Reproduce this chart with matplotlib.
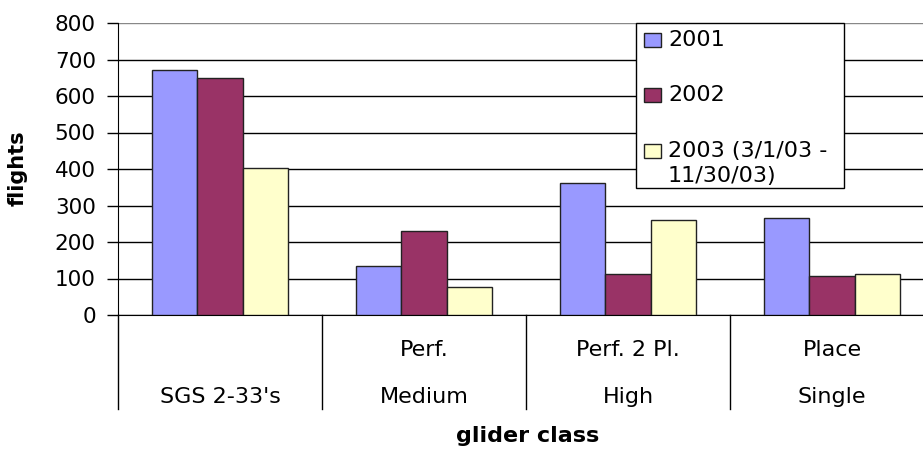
import numpy as np
import matplotlib
matplotlib.use("Agg")
import matplotlib.pyplot as plt
from matplotlib.patches import Rectangle
from matplotlib.transforms import Affine2D, blended_transform_factory

# data
classes_top = ["", "Perf.", "Perf. 2 Pl.", "Place"]
classes_bottom = ["SGS 2-33's", "Medium", "High", "Single"]
series_names = ["2001", "2002", "2003 (3/1/03 -\n11/30/03)"]
flights_2001 = [670, 133, 362, 267]
flights_2002 = [649, 231, 112, 106]
flights_2003 = [404, 77, 259, 113]
colors = ["#9999FF", "#993366", "#FFFFCC"]

W, H = 923, 449
plt.rcParams['font.family'] = ['DejaVu Sans']
fig = plt.figure(figsize=(W / 100, H / 100), dpi=100)

# pixel transform (origin top-left)
px = Affine2D().scale(1 / W, -1 / H).translate(0, 1) + fig.transFigure

left, right, top, bottom = 118, 934, 23, 315
ax = fig.add_axes([left / W, (H - bottom) / H, (right - left) / W, (bottom - top) / H])

x = np.arange(len(classes_bottom))
w = 1 / 4.5
for i, vals in enumerate([flights_2001, flights_2002, flights_2003]):
    ax.bar(x + (i - 1) * w, vals, width=w, color=colors[i],
           edgecolor="#222222", linewidth=1, zorder=3)

ax.set_xlim(-0.5, len(classes_bottom) - 0.5)
ax.set_ylim(0, 800)
ax.set_yticks(np.arange(0, 801, 100))
ax.yaxis.grid(True, color="black", linewidth=1)
ax.get_ygridlines()[-1].set_color("#888888")
ax.set_axisbelow(True)
ax.set_xticks([])
ax.tick_params(axis="y", length=8, width=1, pad=8, labelsize=15.5, direction="out")
for s in ["top", "right"]:
    ax.spines[s].set_visible(False)
ax.spines["left"].set_color("black")
ax.spines["bottom"].set_color("black")

# category table below the axis
drop = (409 - bottom) / (bottom - top)
tr = blended_transform_factory(ax.transData, ax.transAxes)
for b in np.arange(-0.5, len(classes_bottom) - 0.4, 1):
    ax.plot([b, b], [0, -drop], transform=tr, color="black", lw=1, clip_on=False)
row1 = -(350 - bottom) / (bottom - top)
row2 = -(397 - bottom) / (bottom - top)
for xi, t1, t2 in zip(x, classes_top, classes_bottom):
    ax.text(xi, row1, t1, transform=tr, ha="center", va="center", fontsize=16)
    ax.text(xi, row2, t2, transform=tr, ha="center", va="center", fontsize=16)

fig.text(528, 436, "glider class", transform=px, ha="center", va="center",
         fontsize=16, fontweight="bold")
fig.text(18, 168, "flights", transform=px, ha="center", va="center",
         rotation=90, fontsize=15, fontweight="bold")

# legend box
fig.patches.append(Rectangle((636, 23), 208, 165, transform=px, facecolor="white",
                             edgecolor="black", linewidth=1, zorder=5))
ys = [40, 95, 151]
for name, c, yy in zip(series_names, colors, ys):
    fig.patches.append(Rectangle((644, yy - 7), 17, 14, transform=px, facecolor=c,
                                 edgecolor="#222222", linewidth=1, zorder=6))
    for k, line in enumerate(name.split("\n")):
        fig.text(668, yy + k * 25, line, transform=px, ha="left", va="center",
                 fontsize=16, zorder=7)

fig.savefig("out.png", dpi=100)
